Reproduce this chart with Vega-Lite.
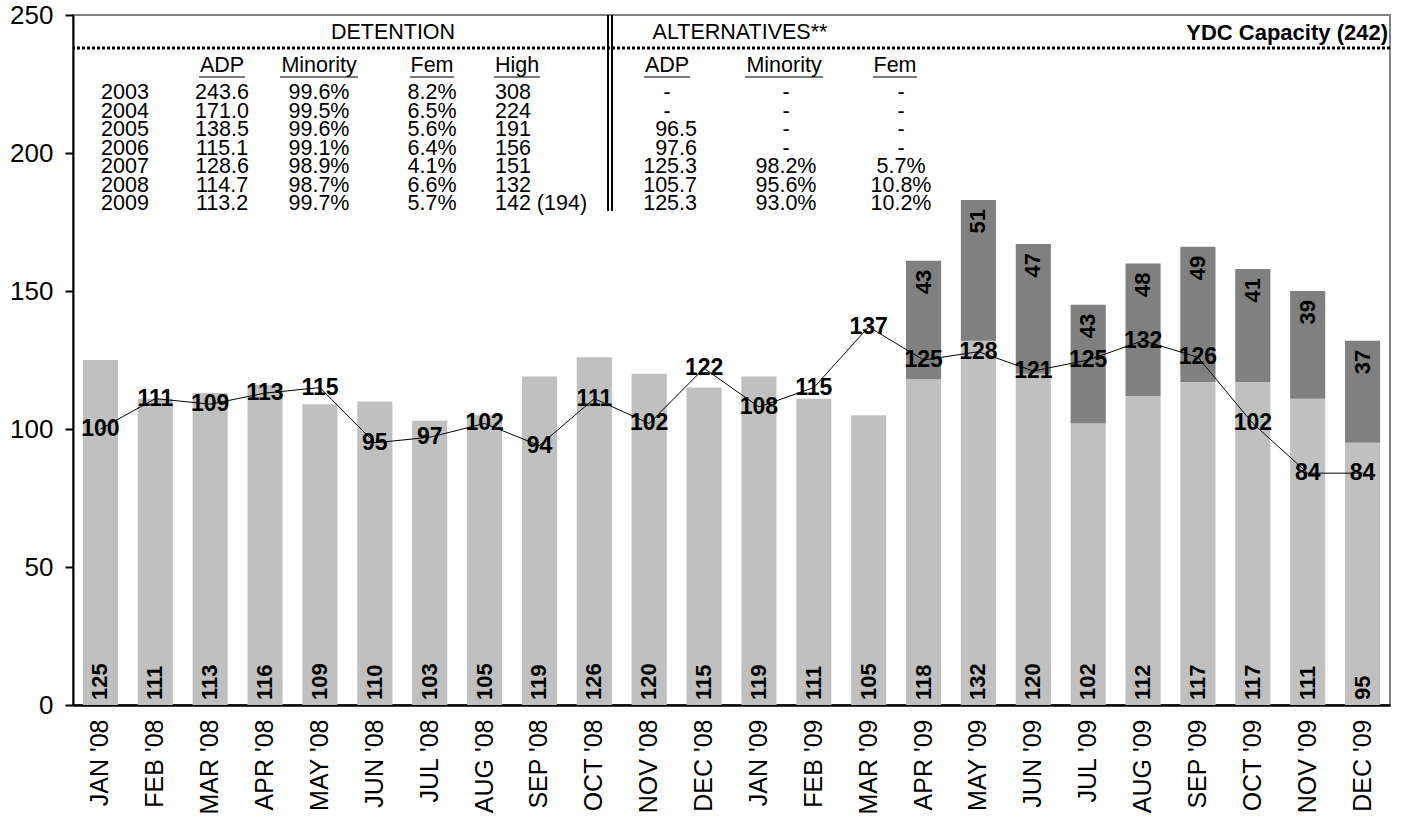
{
  "$schema": "https://vega.github.io/schema/vega-lite/v6.json",
  "width": 1317,
  "height": 690,
  "autosize": {"type": "none"},
  "padding": {"left": 73, "top": 15, "right": 19, "bottom": 120},
  "background": "white",
  "config": {
    "view": {"stroke": "#808080", "strokeWidth": 2},
    "text": {"font": "Liberation Sans", "fontSize": 21.5, "color": "black"}
  },
  "datasets": {
    "bars": [
      {"month": "JAN '08", "series": "Detention", "value": 125},
      {"month": "FEB '08", "series": "Detention", "value": 111},
      {"month": "MAR '08", "series": "Detention", "value": 113},
      {"month": "APR '08", "series": "Detention", "value": 116},
      {"month": "MAY '08", "series": "Detention", "value": 109},
      {"month": "JUN '08", "series": "Detention", "value": 110},
      {"month": "JUL '08", "series": "Detention", "value": 103},
      {"month": "AUG '08", "series": "Detention", "value": 105},
      {"month": "SEP '08", "series": "Detention", "value": 119},
      {"month": "OCT '08", "series": "Detention", "value": 126},
      {"month": "NOV '08", "series": "Detention", "value": 120},
      {"month": "DEC '08", "series": "Detention", "value": 115},
      {"month": "JAN '09", "series": "Detention", "value": 119},
      {"month": "FEB '09", "series": "Detention", "value": 111},
      {"month": "MAR '09", "series": "Detention", "value": 105},
      {"month": "APR '09", "series": "Detention", "value": 118},
      {"month": "MAY '09", "series": "Detention", "value": 132},
      {"month": "JUN '09", "series": "Detention", "value": 120},
      {"month": "JUL '09", "series": "Detention", "value": 102},
      {"month": "AUG '09", "series": "Detention", "value": 112},
      {"month": "SEP '09", "series": "Detention", "value": 117},
      {"month": "OCT '09", "series": "Detention", "value": 117},
      {"month": "NOV '09", "series": "Detention", "value": 111},
      {"month": "DEC '09", "series": "Detention", "value": 95},
      {"month": "APR '09", "series": "Alternatives", "value": 43},
      {"month": "MAY '09", "series": "Alternatives", "value": 51},
      {"month": "JUN '09", "series": "Alternatives", "value": 47},
      {"month": "JUL '09", "series": "Alternatives", "value": 43},
      {"month": "AUG '09", "series": "Alternatives", "value": 48},
      {"month": "SEP '09", "series": "Alternatives", "value": 49},
      {"month": "OCT '09", "series": "Alternatives", "value": 41},
      {"month": "NOV '09", "series": "Alternatives", "value": 39},
      {"month": "DEC '09", "series": "Alternatives", "value": 37}
    ],
    "line": [
      {"month": "JAN '08", "value": 100},
      {"month": "FEB '08", "value": 111},
      {"month": "MAR '08", "value": 109},
      {"month": "APR '08", "value": 113},
      {"month": "MAY '08", "value": 115},
      {"month": "JUN '08", "value": 95},
      {"month": "JUL '08", "value": 97},
      {"month": "AUG '08", "value": 102},
      {"month": "SEP '08", "value": 94},
      {"month": "OCT '08", "value": 111},
      {"month": "NOV '08", "value": 102},
      {"month": "DEC '08", "value": 122},
      {"month": "JAN '09", "value": 108},
      {"month": "FEB '09", "value": 115},
      {"month": "MAR '09", "value": 137},
      {"month": "APR '09", "value": 125},
      {"month": "MAY '09", "value": 128},
      {"month": "JUN '09", "value": 121},
      {"month": "JUL '09", "value": 125},
      {"month": "AUG '09", "value": 132},
      {"month": "SEP '09", "value": 126},
      {"month": "OCT '09", "value": 102},
      {"month": "NOV '09", "value": 84},
      {"month": "DEC '09", "value": 84}
    ],
    "capacity": [{"label": "YDC Capacity (242)", "value": 238}],
    "tableBody": [
      {"Year": "2003", "ADP": "243.6", "Minority": "99.6%", "Fem": "8.2%", "High": "308", "aADP": "-", "aMinority": "-", "aFem": "-"},
      {"Year": "2004", "ADP": "171.0", "Minority": "99.5%", "Fem": "6.5%", "High": "224", "aADP": "-", "aMinority": "-", "aFem": "-"},
      {"Year": "2005", "ADP": "138.5", "Minority": "99.6%", "Fem": "5.6%", "High": "191", "aADP": "96.5", "aMinority": "-", "aFem": "-"},
      {"Year": "2006", "ADP": "115.1", "Minority": "99.1%", "Fem": "6.4%", "High": "156", "aADP": "97.6", "aMinority": "-", "aFem": "-"},
      {"Year": "2007", "ADP": "128.6", "Minority": "98.9%", "Fem": "4.1%", "High": "151", "aADP": "125.3", "aMinority": "98.2%", "aFem": "5.7%"},
      {"Year": "2008", "ADP": "114.7", "Minority": "98.7%", "Fem": "6.6%", "High": "132", "aADP": "105.7", "aMinority": "95.6%", "aFem": "10.8%"},
      {"Year": "2009", "ADP": "113.2", "Minority": "99.7%", "Fem": "5.7%", "High": "142 (194)", "aADP": "125.3", "aMinority": "93.0%", "aFem": "10.2%"}
    ],
    "tableHead": [
      {"col": "ADP", "text": "ADP"},
      {"col": "Minority", "text": "Minority"},
      {"col": "Fem", "text": "Fem"},
      {"col": "High", "text": "High"},
      {"col": "aADP", "text": "ADP"},
      {"col": "aMinority", "text": "Minority"},
      {"col": "aFem", "text": "Fem"}
    ],
    "tableTitle": [
      {"col": "Fem", "text": "DETENTION"},
      {"col": "aMinority", "text": "ALTERNATIVES**"}
    ]
  },
  "layer": [
    {
      "layer": [
        {
          "data": {"name": "bars"},
          "mark": {"type": "bar"},
          "encoding": {
            "x": {
              "field": "month", "type": "ordinal",
              "scale": {"domain": ["JAN '08","FEB '08","MAR '08","APR '08","MAY '08","JUN '08","JUL '08","AUG '08","SEP '08","OCT '08","NOV '08","DEC '08","JAN '09","FEB '09","MAR '09","APR '09","MAY '09","JUN '09","JUL '09","AUG '09","SEP '09","OCT '09","NOV '09","DEC '09"], "paddingInner": 0.36, "paddingOuter": 0.18},
              "axis": {"title": null, "labelAngle": -90, "labelAlign": "right", "labelBaseline": "middle", "labelFont": "Liberation Sans", "labelFontSize": 25, "labelColor": "black", "ticks": false, "labelPadding": 14, "domainColor": "black", "domainWidth": 2.5}
            },
            "y": {"field": "value", "type": "quantitative", "stack": "zero", "scale": {"domain": [0, 250], "nice": false},
              "axis": {"title": null, "values": [0, 50, 100, 150, 200, 250], "grid": false, "labelFont": "Liberation Sans", "labelFontSize": 26, "labelColor": "black", "tickColor": "black", "tickSize": 8, "tickWidth": 2, "labelPadding": 12, "domainColor": "black", "domainWidth": 2}},
            "color": {"field": "series", "type": "nominal", "scale": {"domain": ["Detention", "Alternatives"], "range": ["#C0C0C0", "#808080"]}, "legend": null},
            "order": {"field": "series", "sort": "descending"}
          }
        },
        {
          "data": {"name": "bars"},
          "transform": [{"filter": {"field": "series", "equal": "Detention"}}],
          "mark": {"type": "text", "angle": 270, "align": "left", "baseline": "middle", "dx": 5, "fontWeight": "bold", "fontSize": 22, "color": "black"},
          "encoding": {
            "x": {"field": "month", "type": "ordinal", "scale": {"domain": ["JAN '08","FEB '08","MAR '08","APR '08","MAY '08","JUN '08","JUL '08","AUG '08","SEP '08","OCT '08","NOV '08","DEC '08","JAN '09","FEB '09","MAR '09","APR '09","MAY '09","JUN '09","JUL '09","AUG '09","SEP '09","OCT '09","NOV '09","DEC '09"], "paddingInner": 0.36, "paddingOuter": 0.18}},
            "y": {"datum": 0, "type": "quantitative", "scale": {"domain": [0, 250], "nice": false}},
            "text": {"field": "value", "type": "quantitative"}
          }
        },
        {
          "data": {"name": "bars"},
          "mark": {"type": "text", "angle": 270, "align": "right", "baseline": "middle", "dx": -9, "fontWeight": "bold", "fontSize": 22, "color": "black"},
          "encoding": {
            "x": {"field": "month", "type": "ordinal", "scale": {"domain": ["JAN '08","FEB '08","MAR '08","APR '08","MAY '08","JUN '08","JUL '08","AUG '08","SEP '08","OCT '08","NOV '08","DEC '08","JAN '09","FEB '09","MAR '09","APR '09","MAY '09","JUN '09","JUL '09","AUG '09","SEP '09","OCT '09","NOV '09","DEC '09"], "paddingInner": 0.36, "paddingOuter": 0.18}},
            "y": {"field": "value", "type": "quantitative", "stack": "zero", "scale": {"domain": [0, 250], "nice": false}},
            "detail": {"field": "series"},
            "order": {"field": "series", "sort": "descending"},
            "text": {"condition": {"test": {"field": "series", "equal": "Alternatives"}, "field": "value", "type": "quantitative"}, "value": ""}
          }
        },
        {
          "data": {"name": "line"},
          "mark": {"type": "line", "color": "black", "strokeWidth": 1},
          "encoding": {
            "x": {"field": "month", "type": "ordinal", "scale": {"domain": ["JAN '08","FEB '08","MAR '08","APR '08","MAY '08","JUN '08","JUL '08","AUG '08","SEP '08","OCT '08","NOV '08","DEC '08","JAN '09","FEB '09","MAR '09","APR '09","MAY '09","JUN '09","JUL '09","AUG '09","SEP '09","OCT '09","NOV '09","DEC '09"], "paddingInner": 0.36, "paddingOuter": 0.18}},
            "y": {"field": "value", "type": "quantitative", "scale": {"domain": [0, 250], "nice": false}}
          }
        },
        {
          "data": {"name": "line"},
          "mark": {"type": "text", "align": "center", "baseline": "middle", "fontWeight": "bold", "fontSize": 23, "color": "black"},
          "encoding": {
            "x": {"field": "month", "type": "ordinal", "scale": {"domain": ["JAN '08","FEB '08","MAR '08","APR '08","MAY '08","JUN '08","JUL '08","AUG '08","SEP '08","OCT '08","NOV '08","DEC '08","JAN '09","FEB '09","MAR '09","APR '09","MAY '09","JUN '09","JUL '09","AUG '09","SEP '09","OCT '09","NOV '09","DEC '09"], "paddingInner": 0.36, "paddingOuter": 0.18}},
            "y": {"field": "value", "type": "quantitative", "scale": {"domain": [0, 250], "nice": false}},
            "text": {"field": "value", "type": "quantitative"}
          }
        },
        {
          "data": {"name": "capacity"},
          "mark": {"type": "rule", "color": "black", "strokeWidth": 3, "strokeDash": [3, 2]},
          "encoding": {"y": {"field": "value", "type": "quantitative", "scale": {"domain": [0, 250], "nice": false}}}
        }
      ]
    },
    {
      "layer": [
        {
          "data": {"name": "tableBody"},
          "transform": [{"fold": ["Year","ADP","Minority","Fem","High","aADP","aMinority","aFem"], "as": ["col", "text"]}, {"filter": {"field": "col", "oneOf": ["Year","ADP","Minority","aFem"]}}],
          "mark": {"type": "text", "align": "center", "baseline": "middle", "color": "black"},
          "encoding": {
            "x": {"field": "col", "type": "ordinal", "scale": {"domain": ["Year","ADP","Minority","Fem","High","sep","aADP","aMinority","aFem"], "range": [3.5, 876.5]}, "axis": null},
            "y": {"field": "Year", "type": "ordinal", "scale": {"domain": ["2003","2004","2005","2006","2007","2008","2009"], "range": [68.75, 198.25]}, "axis": null},
            "text": {"field": "text"}
          }
        },
        {
          "data": {"name": "tableBody"},
          "transform": [{"fold": ["Year","ADP","Minority","Fem","High","aADP","aMinority","aFem"], "as": ["col", "text"]}, {"filter": {"field": "col", "equal": "Fem"}}],
          "mark": {"type": "text", "align": "center", "baseline": "middle", "dx": 16, "color": "black"},
          "encoding": {
            "x": {"field": "col", "type": "ordinal", "scale": {"domain": ["Year","ADP","Minority","Fem","High","sep","aADP","aMinority","aFem"], "range": [3.5, 876.5]}, "axis": null},
            "y": {"field": "Year", "type": "ordinal", "scale": {"domain": ["2003","2004","2005","2006","2007","2008","2009"], "range": [68.75, 198.25]}, "axis": null},
            "text": {"field": "text"}
          }
        },
        {
          "data": {"name": "tableBody"},
          "transform": [{"fold": ["Year","ADP","Minority","Fem","High","aADP","aMinority","aFem"], "as": ["col", "text"]}, {"filter": {"field": "col", "equal": "aMinority"}}],
          "mark": {"type": "text", "align": "center", "baseline": "middle", "dx": -18, "color": "black"},
          "encoding": {
            "x": {"field": "col", "type": "ordinal", "scale": {"domain": ["Year","ADP","Minority","Fem","High","sep","aADP","aMinority","aFem"], "range": [3.5, 876.5]}, "axis": null},
            "y": {"field": "Year", "type": "ordinal", "scale": {"domain": ["2003","2004","2005","2006","2007","2008","2009"], "range": [68.75, 198.25]}, "axis": null},
            "text": {"field": "text"}
          }
        },
        {
          "data": {"name": "tableBody"},
          "transform": [{"fold": ["Year","ADP","Minority","Fem","High","aADP","aMinority","aFem"], "as": ["col", "text"]}, {"filter": {"field": "col", "equal": "High"}}],
          "mark": {"type": "text", "align": "left", "baseline": "middle", "dx": -18, "color": "black"},
          "encoding": {
            "x": {"field": "col", "type": "ordinal", "scale": {"domain": ["Year","ADP","Minority","Fem","High","sep","aADP","aMinority","aFem"], "range": [3.5, 876.5]}, "axis": null},
            "y": {"field": "Year", "type": "ordinal", "scale": {"domain": ["2003","2004","2005","2006","2007","2008","2009"], "range": [68.75, 198.25]}, "axis": null},
            "text": {"field": "text"}
          }
        },
        {
          "data": {"name": "tableBody"},
          "transform": [{"fold": ["Year","ADP","Minority","Fem","High","aADP","aMinority","aFem"], "as": ["col", "text"]}, {"filter": {"and": [{"field": "col", "equal": "aADP"}, {"not": {"field": "text", "equal": "-"}}]}}],
          "mark": {"type": "text", "align": "right", "baseline": "middle", "dx": -10, "color": "black"},
          "encoding": {
            "x": {"field": "col", "type": "ordinal", "scale": {"domain": ["Year","ADP","Minority","Fem","High","sep","aADP","aMinority","aFem"], "range": [3.5, 876.5]}, "axis": null},
            "y": {"field": "Year", "type": "ordinal", "scale": {"domain": ["2003","2004","2005","2006","2007","2008","2009"], "range": [68.75, 198.25]}, "axis": null},
            "text": {"field": "text"}
          }
        },
        {
          "data": {"name": "tableBody"},
          "transform": [{"fold": ["Year","ADP","Minority","Fem","High","aADP","aMinority","aFem"], "as": ["col", "text"]}, {"filter": {"and": [{"field": "col", "equal": "aADP"}, {"field": "text", "equal": "-"}]}}],
          "mark": {"type": "text", "align": "center", "baseline": "middle", "dx": -40, "color": "black"},
          "encoding": {
            "x": {"field": "col", "type": "ordinal", "scale": {"domain": ["Year","ADP","Minority","Fem","High","sep","aADP","aMinority","aFem"], "range": [3.5, 876.5]}, "axis": null},
            "y": {"field": "Year", "type": "ordinal", "scale": {"domain": ["2003","2004","2005","2006","2007","2008","2009"], "range": [68.75, 198.25]}, "axis": null},
            "text": {"field": "text"}
          }
        },
        {
          "data": {"name": "tableHead"},
          "transform": [{"filter": {"field": "col", "oneOf": ["ADP", "Minority"]}}],
          "mark": {"type": "text", "align": "center", "baseline": "middle", "yOffset": -27, "color": "black"},
          "encoding": {
            "x": {"field": "col", "type": "ordinal", "scale": {"domain": ["Year","ADP","Minority","Fem","High","sep","aADP","aMinority","aFem"], "range": [3.5, 876.5]}, "axis": null},
            "y": {"datum": "2003", "type": "ordinal", "scale": {"domain": ["2003","2004","2005","2006","2007","2008","2009"], "range": [68.75, 198.25]}, "axis": null},
            "text": {"field": "text"}
          }
        },
        {
          "data": {"name": "tableHead"},
          "transform": [{"filter": {"field": "col", "equal": "Fem"}}],
          "mark": {"type": "text", "align": "center", "baseline": "middle", "yOffset": -27, "dx": 16, "color": "black"},
          "encoding": {
            "x": {"field": "col", "type": "ordinal", "scale": {"domain": ["Year","ADP","Minority","Fem","High","sep","aADP","aMinority","aFem"], "range": [3.5, 876.5]}, "axis": null},
            "y": {"datum": "2003", "type": "ordinal", "scale": {"domain": ["2003","2004","2005","2006","2007","2008","2009"], "range": [68.75, 198.25]}, "axis": null},
            "text": {"field": "text"}
          }
        },
        {
          "data": {"name": "tableHead"},
          "transform": [{"filter": {"field": "col", "equal": "High"}}],
          "mark": {"type": "text", "align": "left", "baseline": "middle", "yOffset": -27, "dx": -18, "color": "black"},
          "encoding": {
            "x": {"field": "col", "type": "ordinal", "scale": {"domain": ["Year","ADP","Minority","Fem","High","sep","aADP","aMinority","aFem"], "range": [3.5, 876.5]}, "axis": null},
            "y": {"datum": "2003", "type": "ordinal", "scale": {"domain": ["2003","2004","2005","2006","2007","2008","2009"], "range": [68.75, 198.25]}, "axis": null},
            "text": {"field": "text"}
          }
        },
        {
          "data": {"name": "tableHead"},
          "transform": [{"filter": {"field": "col", "equal": "aADP"}}],
          "mark": {"type": "text", "align": "center", "baseline": "middle", "yOffset": -27, "dx": -40, "color": "black"},
          "encoding": {
            "x": {"field": "col", "type": "ordinal", "scale": {"domain": ["Year","ADP","Minority","Fem","High","sep","aADP","aMinority","aFem"], "range": [3.5, 876.5]}, "axis": null},
            "y": {"datum": "2003", "type": "ordinal", "scale": {"domain": ["2003","2004","2005","2006","2007","2008","2009"], "range": [68.75, 198.25]}, "axis": null},
            "text": {"field": "text"}
          }
        },
        {
          "data": {"name": "tableHead"},
          "transform": [{"filter": {"field": "col", "equal": "aMinority"}}],
          "mark": {"type": "text", "align": "center", "baseline": "middle", "yOffset": -27, "dx": -20, "color": "black"},
          "encoding": {
            "x": {"field": "col", "type": "ordinal", "scale": {"domain": ["Year","ADP","Minority","Fem","High","sep","aADP","aMinority","aFem"], "range": [3.5, 876.5]}, "axis": null},
            "y": {"datum": "2003", "type": "ordinal", "scale": {"domain": ["2003","2004","2005","2006","2007","2008","2009"], "range": [68.75, 198.25]}, "axis": null},
            "text": {"field": "text"}
          }
        },
        {
          "data": {"name": "tableHead"},
          "transform": [{"filter": {"field": "col", "equal": "aFem"}}],
          "mark": {"type": "text", "align": "center", "baseline": "middle", "yOffset": -27, "dx": -6, "color": "black"},
          "encoding": {
            "x": {"field": "col", "type": "ordinal", "scale": {"domain": ["Year","ADP","Minority","Fem","High","sep","aADP","aMinority","aFem"], "range": [3.5, 876.5]}, "axis": null},
            "y": {"datum": "2003", "type": "ordinal", "scale": {"domain": ["2003","2004","2005","2006","2007","2008","2009"], "range": [68.75, 198.25]}, "axis": null},
            "text": {"field": "text"}
          }
        },
        {
          "data": {"name": "tableHead"},
          "transform": [{"filter": {"field": "col", "oneOf": ["ADP", "Minority"]}}],
          "mark": {"type": "tick", "orient": "horizontal", "thickness": 1.5, "yOffset": -16, "color": "black"},
          "encoding": {
            "x": {"field": "col", "type": "ordinal", "scale": {"domain": ["Year","ADP","Minority","Fem","High","sep","aADP","aMinority","aFem"], "range": [3.5, 876.5]}, "axis": null},
            "y": {"datum": "2003", "type": "ordinal", "scale": {"domain": ["2003","2004","2005","2006","2007","2008","2009"], "range": [68.75, 198.25]}, "axis": null},
            "size": {"condition": {"test": {"field": "col", "equal": "Minority"}, "value": 78}, "value": 46}
          }
        },
        {
          "data": {"name": "tableHead"},
          "transform": [{"filter": {"field": "col", "equal": "Fem"}}],
          "mark": {"type": "tick", "orient": "horizontal", "thickness": 1.5, "yOffset": -16, "xOffset": 16, "size": 44, "color": "black"},
          "encoding": {
            "x": {"field": "col", "type": "ordinal", "scale": {"domain": ["Year","ADP","Minority","Fem","High","sep","aADP","aMinority","aFem"], "range": [3.5, 876.5]}, "axis": null},
            "y": {"datum": "2003", "type": "ordinal", "scale": {"domain": ["2003","2004","2005","2006","2007","2008","2009"], "range": [68.75, 198.25]}, "axis": null}
          }
        },
        {
          "data": {"name": "tableHead"},
          "transform": [{"filter": {"field": "col", "equal": "High"}}],
          "mark": {"type": "tick", "orient": "horizontal", "thickness": 1.5, "yOffset": -16, "xOffset": 4, "size": 46, "color": "black"},
          "encoding": {
            "x": {"field": "col", "type": "ordinal", "scale": {"domain": ["Year","ADP","Minority","Fem","High","sep","aADP","aMinority","aFem"], "range": [3.5, 876.5]}, "axis": null},
            "y": {"datum": "2003", "type": "ordinal", "scale": {"domain": ["2003","2004","2005","2006","2007","2008","2009"], "range": [68.75, 198.25]}, "axis": null}
          }
        },
        {
          "data": {"name": "tableHead"},
          "transform": [{"filter": {"field": "col", "equal": "aADP"}}],
          "mark": {"type": "tick", "orient": "horizontal", "thickness": 1.5, "yOffset": -16, "xOffset": -40, "size": 46, "color": "black"},
          "encoding": {
            "x": {"field": "col", "type": "ordinal", "scale": {"domain": ["Year","ADP","Minority","Fem","High","sep","aADP","aMinority","aFem"], "range": [3.5, 876.5]}, "axis": null},
            "y": {"datum": "2003", "type": "ordinal", "scale": {"domain": ["2003","2004","2005","2006","2007","2008","2009"], "range": [68.75, 198.25]}, "axis": null}
          }
        },
        {
          "data": {"name": "tableHead"},
          "transform": [{"filter": {"field": "col", "equal": "aMinority"}}],
          "mark": {"type": "tick", "orient": "horizontal", "thickness": 1.5, "yOffset": -16, "xOffset": -20, "size": 78, "color": "black"},
          "encoding": {
            "x": {"field": "col", "type": "ordinal", "scale": {"domain": ["Year","ADP","Minority","Fem","High","sep","aADP","aMinority","aFem"], "range": [3.5, 876.5]}, "axis": null},
            "y": {"datum": "2003", "type": "ordinal", "scale": {"domain": ["2003","2004","2005","2006","2007","2008","2009"], "range": [68.75, 198.25]}, "axis": null}
          }
        },
        {
          "data": {"name": "tableHead"},
          "transform": [{"filter": {"field": "col", "equal": "aFem"}}],
          "mark": {"type": "tick", "orient": "horizontal", "thickness": 1.5, "yOffset": -16, "xOffset": -6, "size": 44, "color": "black"},
          "encoding": {
            "x": {"field": "col", "type": "ordinal", "scale": {"domain": ["Year","ADP","Minority","Fem","High","sep","aADP","aMinority","aFem"], "range": [3.5, 876.5]}, "axis": null},
            "y": {"datum": "2003", "type": "ordinal", "scale": {"domain": ["2003","2004","2005","2006","2007","2008","2009"], "range": [68.75, 198.25]}, "axis": null}
          }
        },
        {
          "data": {"name": "tableTitle"},
          "transform": [{"filter": {"field": "col", "equal": "Fem"}}],
          "mark": {"type": "text", "align": "center", "baseline": "middle", "yOffset": -60, "dx": -23, "color": "black"},
          "encoding": {
            "x": {"field": "col", "type": "ordinal", "scale": {"domain": ["Year","ADP","Minority","Fem","High","sep","aADP","aMinority","aFem"], "range": [3.5, 876.5]}, "axis": null},
            "y": {"datum": "2003", "type": "ordinal", "scale": {"domain": ["2003","2004","2005","2006","2007","2008","2009"], "range": [68.75, 198.25]}, "axis": null},
            "text": {"field": "text"}
          }
        },
        {
          "data": {"name": "tableTitle"},
          "transform": [{"filter": {"field": "col", "equal": "aMinority"}}],
          "mark": {"type": "text", "align": "center", "baseline": "middle", "yOffset": -60, "dx": -64, "color": "black"},
          "encoding": {
            "x": {"field": "col", "type": "ordinal", "scale": {"domain": ["Year","ADP","Minority","Fem","High","sep","aADP","aMinority","aFem"], "range": [3.5, 876.5]}, "axis": null},
            "y": {"datum": "2003", "type": "ordinal", "scale": {"domain": ["2003","2004","2005","2006","2007","2008","2009"], "range": [68.75, 198.25]}, "axis": null},
            "text": {"field": "text"}
          }
        },
        {
          "data": {"name": "capacity"},
          "mark": {"type": "text", "align": "right", "baseline": "middle", "x": "width", "dx": -2, "yOffset": -60, "fontWeight": "bold", "fontSize": 22, "color": "black"},
          "encoding": {
            "y": {"datum": "2003", "type": "ordinal", "scale": {"domain": ["2003","2004","2005","2006","2007","2008","2009"], "range": [68.75, 198.25]}, "axis": null},
            "text": {"field": "label"}
          }
        },
        {
          "data": {"values": [{"side": -2}]},
          "mark": {"type": "rule", "color": "black", "strokeWidth": 2, "xOffset": -2, "yOffset": -78, "y2Offset": 7},
          "encoding": {
            "x": {"datum": "sep", "type": "ordinal", "scale": {"domain": ["Year","ADP","Minority","Fem","High","sep","aADP","aMinority","aFem"], "range": [3.5, 876.5]}, "axis": null},
            "y": {"datum": "2003", "type": "ordinal", "scale": {"domain": ["2003","2004","2005","2006","2007","2008","2009"], "range": [68.75, 198.25]}, "axis": null},
            "y2": {"datum": "2009"}
          }
        },
        {
          "data": {"values": [{"side": 2}]},
          "mark": {"type": "rule", "color": "black", "strokeWidth": 2, "xOffset": 2, "yOffset": -78, "y2Offset": 7},
          "encoding": {
            "x": {"datum": "sep", "type": "ordinal", "scale": {"domain": ["Year","ADP","Minority","Fem","High","sep","aADP","aMinority","aFem"], "range": [3.5, 876.5]}, "axis": null},
            "y": {"datum": "2003", "type": "ordinal", "scale": {"domain": ["2003","2004","2005","2006","2007","2008","2009"], "range": [68.75, 198.25]}, "axis": null},
            "y2": {"datum": "2009"}
          }
        }
      ]
    }
  ],
  "resolve": {"scale": {"x": "independent", "y": "independent"}}
}
